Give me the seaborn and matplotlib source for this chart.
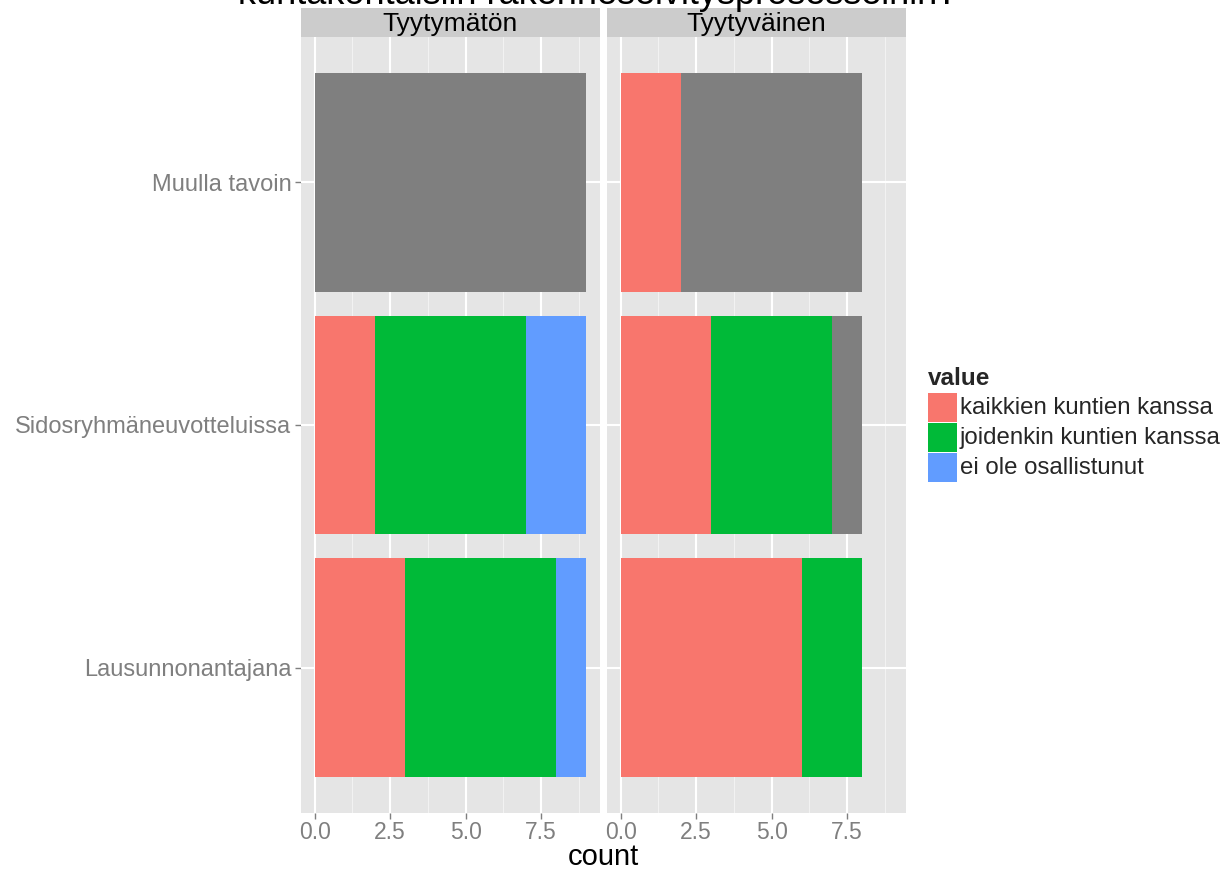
import matplotlib
matplotlib.use("Agg")
import matplotlib.pyplot as plt
from matplotlib.patches import Rectangle
import seaborn as sns
import pandas as pd
import numpy as np

sns.set_theme(style="white")
plt.rcParams['font.family'] = ['Liberation Sans', 'DejaVu Sans']

# ---- data ----
title = "kuntakohtaisiin rakenneselvitysprosesseihin?"
categories = ["Muulla tavoin", "Sidosryhmäneuvotteluissa", "Lausunnonantajana"]
panels = ["Tyytymätön", "Tyytyväinen"]
value_labels = ["kaikkien kuntien kanssa", "joidenkin kuntien kanssa", "ei ole osallistunut"]
colors = ["#F8766D", "#00BA38", "#619CFF"]
na_color = "#7F7F7F"

kaikkien_tyytymaton = [0, 2, 3]
joidenkin_tyytymaton = [0, 5, 5]
ei_tyytymaton = [0, 2, 1]
na_tyytymaton = [9, 0, 0]

kaikkien_tyytyvainen = [2, 3, 6]
joidenkin_tyytyvainen = [0, 4, 2]
ei_tyytyvainen = [0, 0, 0]
na_tyytyvainen = [6, 1, 0]

x_ticks = [0, 2.5, 5, 7.5]
x_ticklabels = ["0.0", "2.5", "5.0", "7.5"]

panel_data = {
    "Tyytymätön": [kaikkien_tyytymaton, joidenkin_tyytymaton, ei_tyytymaton, na_tyytymaton],
    "Tyytyväinen": [kaikkien_tyytyvainen, joidenkin_tyytyvainen, ei_tyytyvainen, na_tyytyvainen],
}

W, H = 1231, 872
fig = plt.figure(figsize=(W / 100, H / 100), dpi=100)

def fx(px):
    return px / W

def fy(py):
    return 1 - py / H

panel_lefts = [301, 607]
panel_w = 299
top_px, bot_px = 37, 813
strip_top = 8

grey50 = "#7F7F7F"
for i, p in enumerate(panels):
    ax = fig.add_axes([fx(panel_lefts[i]), fy(bot_px), fx(panel_w), fy(top_px) - fy(bot_px)])
    ax.set_facecolor("#E5E5E5")
    segs = panel_data[p]
    seg_colors = colors + [na_color]
    cum = np.cumsum(np.array(segs, dtype=float), axis=0)
    # draw from the last (rightmost) segment back to the first
    for k in range(len(segs) - 1, -1, -1):
        df = pd.DataFrame({"count": cum[k], "cat": categories})
        sns.barplot(data=df, x="count", y="cat", order=categories, orient="h",
                    color=seg_colors[k], saturation=1, width=0.9, linewidth=0,
                    ax=ax, zorder=3)
    ax.set_xlim(-0.45, 9.45)
    ax.set_ylim(2.6, -0.6)
    # grid
    for m in [1.25, 3.75, 6.25, 8.75]:
        ax.axvline(m, color="#F2F2F2", lw=0.8, zorder=1)
    for m in x_ticks:
        ax.axvline(m, color="white", lw=1.5, zorder=2)
    for j in range(len(categories)):
        ax.axhline(j, color="white", lw=1.5, zorder=2)
    for s in ax.spines.values():
        s.set_visible(False)
    ax.set_xticks(x_ticks)
    ax.set_xticklabels(x_ticklabels, color=grey50, fontsize=16.5)
    ax.tick_params(axis="x", length=4, width=1, color=grey50, pad=1.5, bottom=True)
    if i == 0:
        ax.set_yticks(range(len(categories)))
        ax.set_yticklabels(categories, color=grey50, fontsize=17)
        ax.tick_params(axis="y", length=4, width=1, color=grey50, pad=3, left=True)
    else:
        ax.set_yticks(range(len(categories)))
        ax.set_yticklabels([])
        ax.tick_params(axis="y", length=0, left=False)
    ax.set_xlabel("")
    ax.set_ylabel("")
    # strip
    fig.patches.append(Rectangle((fx(panel_lefts[i]), fy(top_px)), fx(panel_w),
                                 fy(strip_top) - fy(top_px), transform=fig.transFigure,
                                 facecolor="#CCCCCC", edgecolor="none", zorder=0))
    fig.text(fx(panel_lefts[i] + panel_w / 2), fy((strip_top + top_px) / 2 + 1), p,
             ha="center", va="center", fontsize=19, color="black")

fig.text(fx(603), fy(871), "count", ha="center", va="bottom", fontsize=21, color="black")
fig.text(fx(598), fy(12), title, ha="center", va="bottom", fontsize=26, color="black")

# legend
lx, ly = 928, 378
fig.text(fx(lx), fy(ly), "value", ha="left", va="center", fontsize=17.5, fontweight="bold")
key_h = 30
for k, (lab, c) in enumerate(zip(value_labels, colors)):
    y0 = 393 + k * key_h
    fig.patches.append(Rectangle((fx(lx), fy(y0 + key_h - 1)), fx(29), fy(y0) - fy(y0 + key_h - 1),
                                 transform=fig.transFigure, facecolor=c, edgecolor="none"))
    fig.text(fx(960), fy(y0 + key_h / 2), lab, ha="left", va="center", fontsize=17.3)

fig.savefig("out.png", dpi=100)
